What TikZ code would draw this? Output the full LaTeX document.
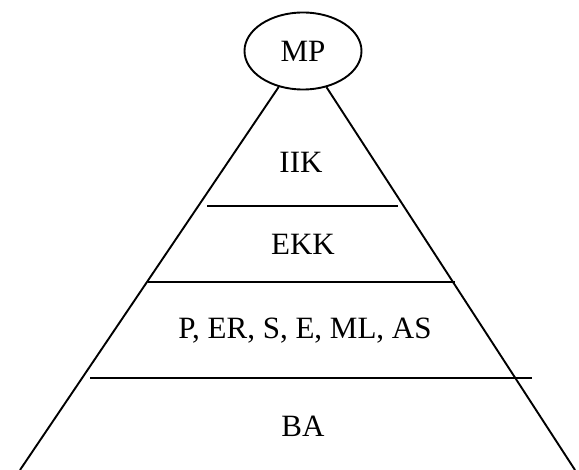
\documentclass[tikz,border=0pt]{standalone}
\usepackage{fontspec}
\setmainfont{Liberation Serif}
\usetikzlibrary{shapes.geometric}
\tikzset{lvl/.style={font=\fontsize{31}{36}\selectfont,inner sep=0pt}}
\begin{document}
\begin{tikzpicture}[x=1pt,y=-1pt,line width=1.9pt]
 \useasboundingbox (0,0) rectangle (579,470);
 \node[ellipse,draw,minimum width=117pt,minimum height=77pt,inner sep=0pt,lvl] (mp) at (303,51) {MP};
 \coordinate (bl) at (20,470);
 \coordinate (br) at (575,470);
 \draw (mp) -- (bl);
 \draw (mp) -- (br);
 \draw (207,206) -- (398,206);
 \draw (148,282) -- (455,282);
 \draw (90,378) -- (532,378);
 \node[lvl] (iik) at (301,162) {IIK};
 \node[lvl] (ekk) at (303,244) {EKK};
 \node[lvl] (mid) at (305,331) {P, ER, S, E, ML, AS};
 \node[lvl] (ba) at (303,426) {BA};
\end{tikzpicture}
\end{document}
